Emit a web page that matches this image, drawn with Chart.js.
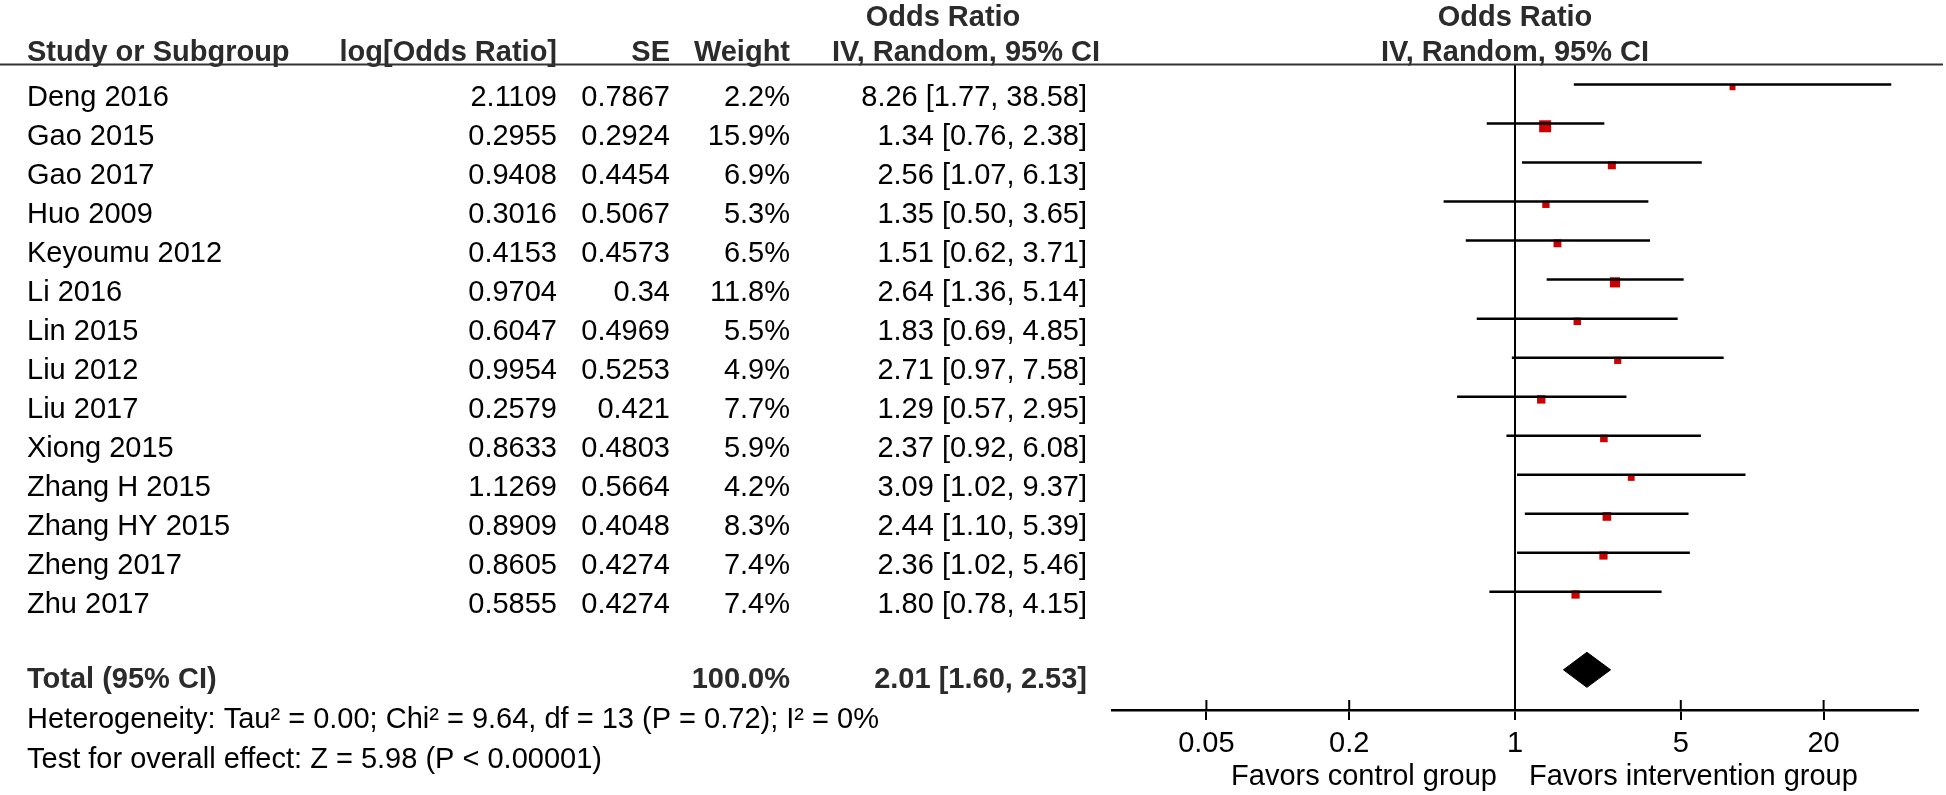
<!DOCTYPE html>
<html>
<head>
<meta charset="utf-8">
<title>Forest plot</title>
<script src="https://cdn.jsdelivr.net/npm/chart.js@4.4.1/dist/chart.umd.min.js"></script>
<style>
  html, body { margin: 0; padding: 0; background: #fff; }
  #wrap { position: relative; width: 1946px; height: 795px; }
</style>
</head>
<body>
<div id="wrap"><canvas id="forest"></canvas></div>
<script>
// --- data ---
const studies = ['Deng 2016', 'Gao 2015', 'Gao 2017', 'Huo 2009', 'Keyoumu 2012', 'Li 2016', 'Lin 2015',
                 'Liu 2012', 'Liu 2017', 'Xiong 2015', 'Zhang H 2015', 'Zhang HY 2015', 'Zheng 2017', 'Zhu 2017'];
const logOR = ['2.1109', '0.2955', '0.9408', '0.3016', '0.4153', '0.9704', '0.6047',
               '0.9954', '0.2579', '0.8633', '1.1269', '0.8909', '0.8605', '0.5855'];
const seVals = ['0.7867', '0.2924', '0.4454', '0.5067', '0.4573', '0.34', '0.4969',
                '0.5253', '0.421', '0.4803', '0.5664', '0.4048', '0.4274', '0.4274'];
const weights = [2.2, 15.9, 6.9, 5.3, 6.5, 11.8, 5.5, 4.9, 7.7, 5.9, 4.2, 8.3, 7.4, 7.4];
const oddsRatio = [8.26, 1.34, 2.56, 1.35, 1.51, 2.64, 1.83, 2.71, 1.29, 2.37, 3.09, 2.44, 2.36, 1.80];
const ciLow = [1.77, 0.76, 1.07, 0.50, 0.62, 1.36, 0.69, 0.97, 0.57, 0.92, 1.02, 1.10, 1.02, 0.78];
const ciHigh = [38.58, 2.38, 6.13, 3.65, 3.71, 5.14, 4.85, 7.58, 2.95, 6.08, 9.37, 5.39, 5.46, 4.15];
const totalOR = 2.01, totalLow = 1.60, totalHigh = 2.53, totalWeight = '100.0%';
const tickValues = [0.05, 0.2, 1, 5, 20];
const heterogeneity = 'Heterogeneity: Tau² = 0.00; Chi² = 9.64, df = 13 (P = 0.72); I² = 0%';
const overallTest = 'Test for overall effect: Z = 5.98 (P < 0.00001)';

const FONT = '"Liberation Sans", Arial, Helvetica, sans-serif';
const TOTAL_ROW = 15;
const ciText = (o, l, h) => `${o.toFixed(2)} [${l.toFixed(2)}, ${h.toFixed(2)}]`;

// table columns + header rule, lined up with the y scale rows
const tablePlugin = {
  id: 'forestTable',
  afterDraw(chart) {
    const { ctx, scales: { x, y } } = chart;
    const put = (s, px, py, align, bold, color) => {
      ctx.font = `${bold ? 'bold ' : ''}29px ${FONT}`;
      ctx.textAlign = align;
      ctx.textBaseline = 'alphabetic';
      ctx.fillStyle = color || '#000';
      ctx.fillText(s, px, py);
    };
    ctx.save();
    const hd = '#2b2b2b';
    // headers
    put('Odds Ratio', 943, 26, 'center', true, hd);
    put('Odds Ratio', (x.left + x.right) / 2, 26, 'center', true, hd);
    put('Study or Subgroup', 27, 61, 'left', true, hd);
    put('log[Odds Ratio]', 557, 61, 'right', true, hd);
    put('SE', 670, 61, 'right', true, hd);
    put('Weight', 790, 61, 'right', true, hd);
    put('IV, Random, 95% CI', 1100, 61, 'right', true, hd);
    put('IV, Random, 95% CI', (x.left + x.right) / 2, 61, 'center', true, hd);
    ctx.strokeStyle = '#333';
    ctx.lineWidth = 2;
    ctx.beginPath(); ctx.moveTo(0, 64.5); ctx.lineTo(1943, 64.5); ctx.stroke();

    // study rows
    studies.forEach((s, i) => {
      const by = y.getPixelForValue(i) + 21;
      put(s, 27, by, 'left');
      put(logOR[i], 557, by, 'right');
      put(seVals[i], 670, by, 'right');
      put(weights[i].toFixed(1) + '%', 790, by, 'right');
      put(ciText(oddsRatio[i], ciLow[i], ciHigh[i]), 1087, by, 'right');
    });
    const ty = y.getPixelForValue(TOTAL_ROW) + 18;
    put('Total (95% CI)', 27, ty, 'left', true, hd);
    put(totalWeight, 790, ty, 'right', true, hd);
    put(ciText(totalOR, totalLow, totalHigh), 1087, ty, 'right', true, hd);
    put(heterogeneity, 27, ty + 40, 'left');
    put(overallTest, 27, ty + 80, 'left');

    // upper half of the tick marks (they cross the axis)
    ctx.strokeStyle = '#000';
    ctx.lineWidth = 2;
    x.ticks.forEach(t => {
      const px = x.getPixelForValue(t.value);
      ctx.beginPath(); ctx.moveTo(px, x.top - 10); ctx.lineTo(px, x.top); ctx.stroke();
    });
    // favours captions
    const one = x.getPixelForValue(1);
    put('Favors control group', one - 18, 785, 'right');
    put('Favors intervention group', one + 14, 785, 'left');
    ctx.restore();
  }
};

const ciSets = studies.map((s, i) => ({
  label: s,
  data: [{ x: ciLow[i], y: i }, { x: ciHigh[i], y: i }],
  showLine: true, borderColor: '#000', borderWidth: 2.5, pointRadius: 0, clip: false,
}));

const DIAMOND_H = 0.45;
new Chart(document.getElementById('forest'), {
  type: 'scatter',
  data: {
    datasets: [
      {
        label: 'null',
        data: [{ x: 1, y: -0.5 }, { x: 1, y: 16.03 }],
        showLine: true, borderColor: '#000', borderWidth: 2, pointRadius: 0, clip: false,
      },
      ...ciSets,
      {
        label: 'point estimates',
        data: oddsRatio.map((v, i) => ({ x: v, y: i + 0.07 })),
        pointStyle: 'rect',
        pointRadius: weights.map(w => (5 + 0.44 * w) / Math.SQRT2),
        backgroundColor: '#cc0000', borderWidth: 0, clip: false,
      },
      {
        label: 'total',
        data: [
          { x: totalLow, y: TOTAL_ROW }, { x: totalOR, y: TOTAL_ROW - DIAMOND_H },
          { x: totalHigh, y: TOTAL_ROW }, { x: totalOR, y: TOTAL_ROW + DIAMOND_H },
          { x: totalLow, y: TOTAL_ROW },
        ],
        showLine: true, fill: 'shape', backgroundColor: '#000', borderColor: '#000',
        borderWidth: 1, pointRadius: 0, tension: 0, clip: false,
      },
    ],
  },
  options: {
    responsive: true, maintainAspectRatio: false, animation: false, events: [],
    layout: { padding: { left: 1112, right: 28, top: 65, bottom: 0 } },
    plugins: { legend: { display: false }, tooltip: { enabled: false } },
    scales: {
      x: {
        type: 'logarithmic', min: 0.02, max: 50, position: 'bottom',
        afterBuildTicks: s => { s.ticks = tickValues.map(v => ({ value: v })); },
        afterFit: s => { s.height = 85; },
        ticks: {
          color: '#000', font: { family: FONT, size: 29 }, padding: 7,
          autoSkip: false, maxRotation: 0, callback: v => String(v),
        },
        grid: { drawOnChartArea: false, drawTicks: true, tickLength: 10, color: '#000', lineWidth: 2 },
        border: { display: true, color: '#000', width: 2.5 },
      },
      y: { type: 'linear', reverse: true, min: -0.5, max: 16.03, display: false },
    },
  },
  plugins: [tablePlugin],
});
</script>
</body>
</html>
